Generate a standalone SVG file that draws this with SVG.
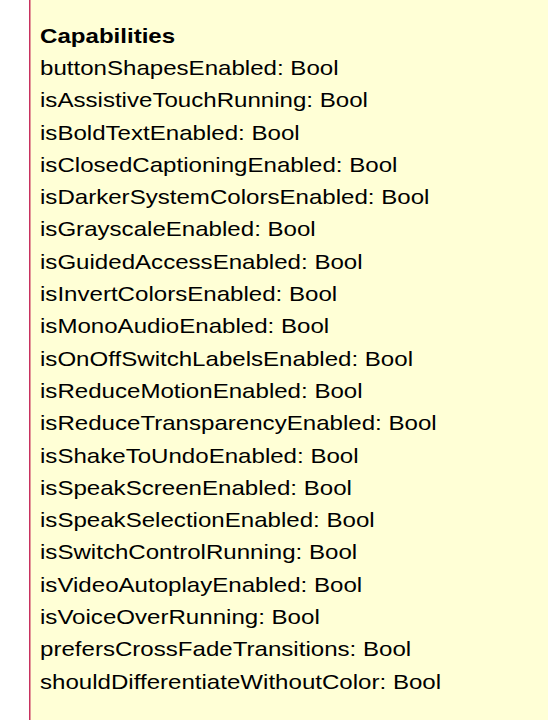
<svg xmlns="http://www.w3.org/2000/svg" width="548" height="720" viewBox="0 0 548 720">
<style>
.t{font-family:"Liberation Sans",Arial,Helvetica,sans-serif;font-size:20px;fill:#000}
.b{font-weight:bold}
</style>
<rect width="548" height="720" fill="#fff"/>
<g id="capabilities">
<rect x="29.75" y="-2" width="530" height="730" fill="#ffffd6" stroke="#c8325f" stroke-width="1.5"/>
<g transform="translate(40 0) scale(1.205 1)">
<text class="t b" x="0" y="42.7">Capabilities</text>
<text class="t" x="0" y="75">buttonShapesEnabled: Bool</text>
<text class="t" x="0" y="107.3">isAssistiveTouchRunning: Bool</text>
<text class="t" x="0" y="139.6">isBoldTextEnabled: Bool</text>
<text class="t" x="0" y="171.9">isClosedCaptioningEnabled: Bool</text>
<text class="t" x="0" y="204.2">isDarkerSystemColorsEnabled: Bool</text>
<text class="t" x="0" y="236.5">isGrayscaleEnabled: Bool</text>
<text class="t" x="0" y="268.8">isGuidedAccessEnabled: Bool</text>
<text class="t" x="0" y="301.1">isInvertColorsEnabled: Bool</text>
<text class="t" x="0" y="333.4">isMonoAudioEnabled: Bool</text>
<text class="t" x="0" y="365.7">isOnOffSwitchLabelsEnabled: Bool</text>
<text class="t" x="0" y="398">isReduceMotionEnabled: Bool</text>
<text class="t" x="0" y="430.3">isReduceTransparencyEnabled: Bool</text>
<text class="t" x="0" y="462.6">isShakeToUndoEnabled: Bool</text>
<text class="t" x="0" y="494.9">isSpeakScreenEnabled: Bool</text>
<text class="t" x="0" y="527.2">isSpeakSelectionEnabled: Bool</text>
<text class="t" x="0" y="559.5">isSwitchControlRunning: Bool</text>
<text class="t" x="0" y="591.8">isVideoAutoplayEnabled: Bool</text>
<text class="t" x="0" y="624.1">isVoiceOverRunning: Bool</text>
<text class="t" x="0" y="656.4">prefersCrossFadeTransitions: Bool</text>
<text class="t" x="0" y="688.7">shouldDifferentiateWithoutColor: Bool</text>
</g>
</g>
</svg>
